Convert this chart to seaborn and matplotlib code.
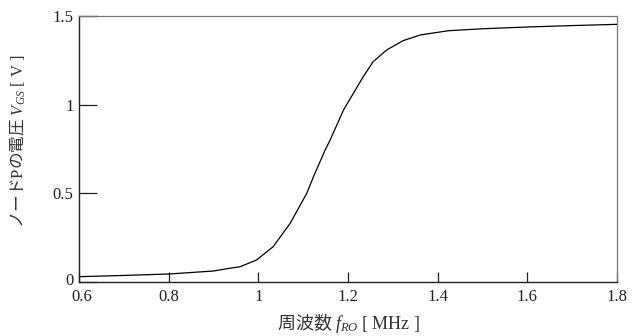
import matplotlib
matplotlib.use("Agg")
import matplotlib.pyplot as plt
import matplotlib.transforms as mtransforms
import seaborn as sns
import pandas as pd

# Data
freq_mhz = [0.60, 0.70, 0.80, 0.90, 0.935, 0.959, 0.996, 1.033, 1.071, 1.108, 1.123,
            1.149, 1.160, 1.190, 1.234, 1.256, 1.286, 1.323, 1.361, 1.424, 1.50,
            1.60, 1.70, 1.80]
v_gs = [0.030, 0.037, 0.045, 0.062, 0.077, 0.086, 0.124, 0.199, 0.331, 0.500, 0.594,
        0.744, 0.800, 0.970, 1.158, 1.242, 1.308, 1.361, 1.393, 1.417, 1.428,
        1.438, 1.446, 1.453]
x_ticks = [0.6, 0.8, 1.0, 1.2, 1.4, 1.6, 1.8]
x_tick_labels = ["0.6", "0.8", "1", "1.2", "1.4", "1.6", "1.8"]
y_ticks = [0, 0.5, 1.0, 1.5]
y_tick_labels = ["0", "0.5", "1", "1.5"]

df = pd.DataFrame({"f": freq_mhz, "v": v_gs})

sns.set_theme(style="white")
plt.rcParams["font.family"] = ["Liberation Serif", "Noto Sans CJK JP", "DejaVu Sans"]
plt.rcParams["mathtext.fontset"] = "custom"
plt.rcParams["mathtext.rm"] = "Liberation Serif"
plt.rcParams["mathtext.it"] = "Liberation Serif:italic"
plt.rcParams["mathtext.sf"] = "Liberation Serif"
plt.rcParams["mathtext.default"] = "it"

fig = plt.figure(figsize=(6.37, 3.36), dpi=100)
ax = fig.add_axes([79 / 637, 1 - 282 / 336, (617 - 79) / 637, (282 - 16) / 336])

sns.lineplot(data=df, x="f", y="v", ax=ax, color="black", linewidth=0.9)

ax.set_xlim(0.6, 1.8)
ax.set_ylim(0, 1.5)
ax.set_xticks(x_ticks)
ax.set_xticklabels(x_tick_labels)
ax.set_yticks(y_ticks)
ax.set_yticklabels(y_tick_labels)
ax.tick_params(axis="x", bottom=True, direction="in", length=7, width=0.9, labelsize=12,
               colors="#222222", pad=5)
ax.tick_params(axis="y", left=True, direction="in", length=13, width=0.9, labelsize=12,
               colors="#222222", pad=4)

# small offsets of the corner labels, as in the reference
lbl0 = ax.get_xticklabels()[0]
lbl0.set_transform(lbl0.get_transform() +
                   mtransforms.ScaledTranslation(3 / 100, 0, fig.dpi_scale_trans))
ylbl0 = ax.get_yticklabels()[0]
ylbl0.set_transform(ylbl0.get_transform() +
                    mtransforms.ScaledTranslation(0, 3 / 100, fig.dpi_scale_trans))

for side in ["left", "bottom"]:
    ax.spines[side].set_color("#222222")
    ax.spines[side].set_linewidth(1.0)
for side in ["top", "right"]:
    ax.spines[side].set_color("#777777")
    ax.spines[side].set_linewidth(0.9)
    ax.spines[side].set_visible(True)

ax.set_xlabel(r"周波数 $f_{RO}$ $\mathrm{[\ MHz\ ]}$", fontsize=13, color="#333333",
              family="Noto Sans CJK JP")
ax.set_ylabel(r"ノード$\mathrm{P}$の電圧 $V_{GS}$ $\mathrm{[\ V\ ]}$", fontsize=12,
              color="#333333", family="Noto Sans CJK JP")
ax.xaxis.set_label_coords(0.5, -0.11)
ax.yaxis.set_label_coords(-0.095, 0.53)

fig.savefig("out.png", dpi=100, facecolor="white")
